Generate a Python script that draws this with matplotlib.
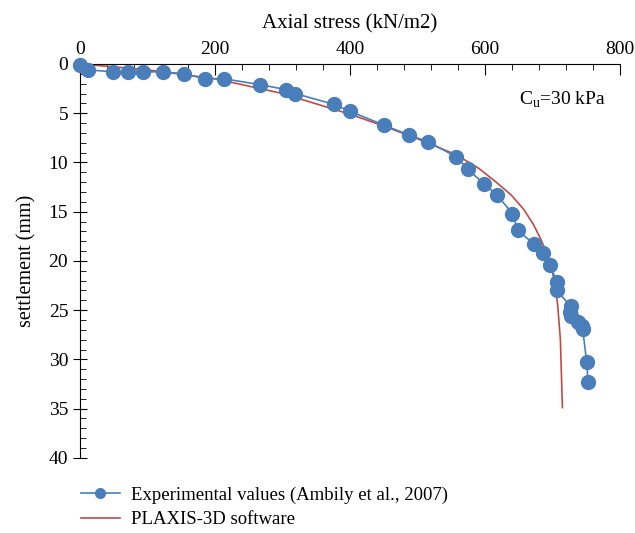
import numpy as np
import matplotlib.pyplot as plt
from matplotlib.ticker import MultipleLocator

# experimental values (Ambily et al., 2007)
exp_stress = [0, 12, 49, 71, 93, 123, 154, 185, 213, 267, 305, 319, 376, 400,
              450, 487, 516, 557, 575, 599, 618, 641, 649, 673, 686, 696, 707,
              707, 727, 726, 727, 738, 744, 745, 751, 753]
exp_settle = [0.1, 0.6, 0.8, 0.8, 0.8, 0.8, 1.0, 1.5, 1.5, 2.1, 2.6, 3.0, 4.1,
              4.8, 6.2, 7.2, 7.9, 9.4, 10.7, 12.2, 13.3, 15.2, 16.9, 18.3, 19.2,
              20.4, 22.1, 23.0, 24.6, 25.2, 25.6, 26.2, 26.6, 26.9, 30.3, 32.3]

# PLAXIS-3D
plx_stress = [0, 100, 200, 300, 400, 450, 500, 557, 591, 615, 639, 658, 672,
              683, 691, 698, 704, 708, 712, 715]
plx_settle = [0, 0.6, 1.5, 3.0, 5.1, 6.3, 7.6, 9.2, 10.6, 11.9, 13.3, 14.8,
              16.3, 17.8, 19.1, 20.5, 22.3, 24.5, 28.0, 34.9]

plt.rcParams['font.family'] = ['Liberation Serif', 'DejaVu Serif']

fig = plt.figure(figsize=(6.35, 5.33), dpi=100)
ax = fig.add_axes([0.126, 0.141, 0.85, 0.739])

ax.plot(exp_stress, exp_settle, '-o', color='#4A7EBB', lw=1.2, ms=10,
        clip_on=False, zorder=3,
        label='Experimental values (Ambily et al., 2007)')
ax.plot(plx_stress, plx_settle, '-', color='#BE4B48', lw=1.2,
        label='PLAXIS-3D software')

ax.set_xlim(0, 800)
ax.set_ylim(40, 0)
ax.xaxis.set_major_locator(MultipleLocator(200))
ax.xaxis.set_minor_locator(MultipleLocator(40))
ax.yaxis.set_major_locator(MultipleLocator(5))
ax.yaxis.set_minor_locator(MultipleLocator(1))
ax.xaxis.tick_top()
ax.xaxis.set_label_position('top')
ax.spines['right'].set_visible(False)
ax.spines['bottom'].set_visible(False)
ax.tick_params(axis='x', which='major', direction='in', length=8, labelsize=14, pad=4)
ax.tick_params(axis='x', which='minor', direction='in', length=4)
ax.tick_params(axis='y', which='major', direction='inout', length=10, labelsize=14)
ax.tick_params(axis='y', which='minor', direction='in', length=4)

ax.set_xlabel('Axial stress (kN/m2)', fontsize=15, labelpad=9)
ax.set_ylabel('settlement (mm)', fontsize=14.5, labelpad=9)

ax.text(0.975, 0.91, r'C$_\mathregular{u}$=30 kPa', transform=ax.transAxes,
        ha='right', va='center', fontsize=14)

ax.legend(loc='upper left', bbox_to_anchor=(-0.03, -0.03), frameon=False,
          fontsize=13.5, handlelength=2.1, handletextpad=0.6, labelspacing=0.4,
          markerscale=0.7)

fig.savefig('out.png', dpi=100)
